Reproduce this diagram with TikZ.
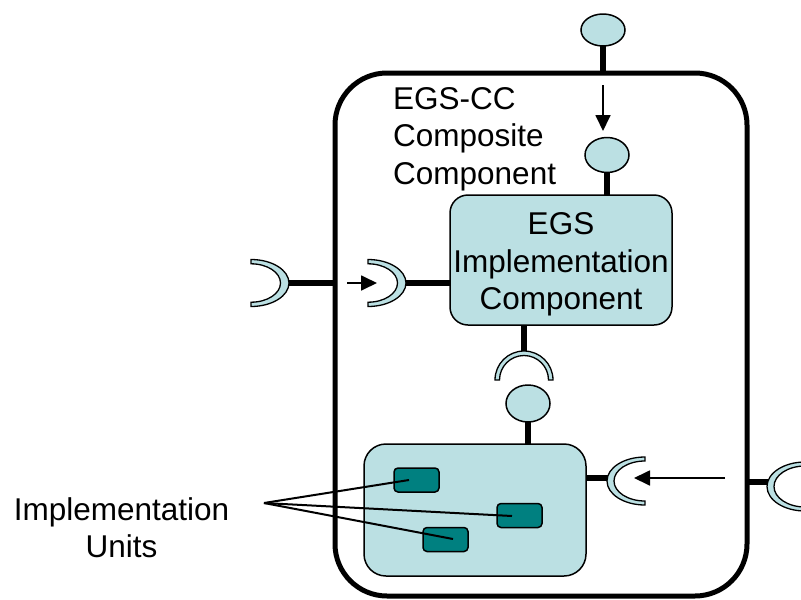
\documentclass[tikz,border=0pt]{standalone}
\usepackage{fontspec}
\setmainfont{Liberation Sans}
\usetikzlibrary{shapes.geometric,arrows.meta}
\definecolor{lblue}{RGB}{187,224,227}
\definecolor{tealbox}{RGB}{0,128,128}
\begin{document}
\begin{tikzpicture}[x=1pt,y=-1pt,
  stem/.style={line width=5.5pt},
  lolli/.style={ellipse, draw, line width=1.5pt, fill=lblue, minimum width=44pt, minimum height=32pt, inner sep=0pt, outer sep=0pt},
  comp/.style={draw, line width=1.5pt, fill=lblue, rounded corners=18pt, inner sep=0pt, outer sep=0pt},
  unitbox/.style={draw, line width=1.5pt, fill=tealbox, rounded corners=4pt, minimum width=45pt, minimum height=24pt, inner sep=0pt},
  sock/.style={draw, line width=1.3pt, fill=lblue},
  flow/.style={line width=1.8pt, -{Triangle[length=16pt,width=15pt]}},
  pointer/.style={line width=2pt},
  lbl/.style={font=\fontsize{31.5}{37.5}\selectfont, inner sep=0pt}]
\useasboundingbox (0,0) rectangle (801,600);

% outer composite component
\node[draw, line width=5pt, rounded corners=52pt, minimum width=412pt, minimum height=523pt, inner sep=0pt, outer sep=0pt] (cc) at (541,334.5) {};
\node[lbl, align=left, anchor=north west] (cct) at (393,87) {EGS-CC\\Composite\\Component};

% top lollipop and arrow
\node[lolli] (l1) at (603,30) {};
\draw[stem] (l1.south) -- (l1.south |- cc.north);
\coordinate (a1s) at (603,85);
\coordinate (a1e) at (603,131);
\draw[flow] (a1s) -- (a1e);

% EGS implementation component
\node[comp, minimum width=222pt, minimum height=130pt] (egs) at (561,260) {};
\node[lbl, align=center] (egst) at (561,264.5) {EGS\\Implementation\\Component};
\node[lolli, minimum height=35pt] (l2) at (607,155) {};
\draw[stem] (l2.south) -- (l2.south |- egs.north);

% left sockets
\coordinate (s1) at (251,283);
\coordinate (s2) at (368,283);
\draw[stem] ([xshift=36pt]s1) -- (s1 -| cc.west);
\draw[stem] ([xshift=36pt]s2) -- (s2 -| egs.west);
\draw[sock] (s1) ++(0,-23.5) arc[start angle=-90,end angle=90,x radius=38,y radius=23.5] -- ++(0,-4.3) arc[start angle=90,end angle=-90,x radius=29.5,y radius=19.2] -- cycle;
\draw[sock] (s2) ++(0,-23.5) arc[start angle=-90,end angle=90,x radius=38,y radius=23.5] -- ++(0,-4.3) arc[start angle=90,end angle=-90,x radius=29.5,y radius=19.2] -- cycle;
\coordinate (a2s) at (347,283);
\coordinate (a2e) at (377,283);
\draw[flow] (a2s) -- (a2e);

% socket below EGS box
\coordinate (s3) at (524,380);
\draw[stem] (egs.south -| s3) -- ([yshift=27pt]s3);
\draw[sock] (s3) ++(-29,0) arc[start angle=180,end angle=360,x radius=29,y radius=29] -- ++(-4.5,0) arc[start angle=0,end angle=-180,x radius=24.5,y radius=24.5] -- cycle;

% lower component
\node[comp, rounded corners=22pt, minimum width=222pt, minimum height=132pt] (low) at (475,510) {};
\node[lolli, minimum height=37pt] (l3) at (528,403.5) {};
\draw[stem] (l3.south) -- (l3.south |- low.north);

\node[unitbox] (u1) at (416.5,480) {};
\node[unitbox] (u2) at (519.5,515.5) {};
\node[unitbox] (u3) at (445.5,539.5) {};

% right socket
\coordinate (s4) at (645,481);
\coordinate (p4) at (609,478);
\draw[stem] (low.east |- p4) -- (p4);
\draw[sock] (s4) ++(0,-24) arc[start angle=270,end angle=90,x radius=38,y radius=24] -- ++(0,-4) arc[start angle=90,end angle=270,x radius=31,y radius=20] -- cycle;
\coordinate (a3s) at (725,478);
\coordinate (a3e) at (634,478);
\draw[flow] (a3s) -- (a3e);

% far right socket
\coordinate (s5) at (805,486.5);
\coordinate (p5) at (769,482);
\draw[stem] (cc.east |- p5) -- (p5);
\draw[sock] (s5) ++(0,-24.5) arc[start angle=270,end angle=90,x radius=38,y radius=24.5] -- ++(0,-4) arc[start angle=90,end angle=270,x radius=31,y radius=20.5] -- cycle;

% implementation units label
\node[lbl, align=center, anchor=north] (iu) at (121.5,497) {Implementation\\Units};
\coordinate (lp) at (264,503);
\coordinate (e1) at (409,480);
\coordinate (e2) at (512,516);
\coordinate (e3) at (453,539);
\draw[pointer] (lp) -- (e1);
\draw[pointer] (lp) -- (e2);
\draw[pointer] (lp) -- (e3);
\end{tikzpicture}
\end{document}
